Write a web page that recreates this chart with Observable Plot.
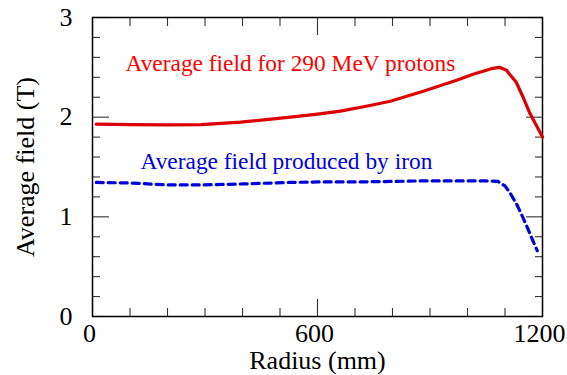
<!DOCTYPE html>
<html>
<head>
<meta charset="utf-8">
<script src="https://cdn.jsdelivr.net/npm/d3@7"></script>
<script src="https://cdn.jsdelivr.net/npm/@observablehq/plot@0.6"></script>
<style>
  html, body { margin: 0; padding: 0; background: #fff; }
</style>
</head>
<body>
<div id="chart"></div>
<script>
// Average field for 290 MeV protons (radius in mm, field in T)
const protonRadius = [10, 100, 200, 290, 395, 528, 600, 661, 730, 794, 882, 971, 1015, 1068, 1085, 1104, 1130, 1147, 1165, 1200];
const protonField  = [1.93, 1.925, 1.923, 1.925, 1.95, 2.00, 2.03, 2.06, 2.11, 2.16, 2.26, 2.37, 2.43, 2.49, 2.50, 2.47, 2.35, 2.21, 2.05, 1.80];

// Average field produced by iron
const ironRadius = [10, 100, 200, 290, 400, 528, 600, 700, 800, 870, 950, 1050, 1081, 1100, 1115, 1132, 1147, 1160, 1172, 1186];
const ironField  = [1.345, 1.34, 1.32, 1.32, 1.33, 1.345, 1.35, 1.35, 1.355, 1.36, 1.36, 1.36, 1.355, 1.31, 1.23, 1.12, 1.00, 0.89, 0.78, 0.66];

// Annotations
const annoText = ["Average field for 290 MeV protons", "Average field produced by iron"];
const annoX = [88, 128];
const annoY = [2.465, 1.477];
const annoColor = ["#ff0000", "#0000dd"];

// Ticks
const xMajor = [0, 600, 1200];
const xMinor = [100, 200, 300, 400, 500, 700, 800, 900, 1000, 1100];
const yMajor = [0, 1, 2, 3];
const yMinor = [0.2, 0.4, 0.6, 0.8, 1.2, 1.4, 1.6, 1.8, 2.2, 2.4, 2.6, 2.8];

const protons = protonRadius.map((r, i) => ({r, b: protonField[i]}));
const iron = ironRadius.map((r, i) => ({r, b: ironField[i]}));
const annos = annoText.map((t, i) => ({t, x: annoX[i], y: annoY[i], c: annoColor[i]}));

const FONT = "'Liberation Serif', 'Times New Roman', serif";
const tickStroke = "#333";
const tw = 1.1;
const fmt = d => String(d);
const chart = Plot.plot({
  width: 567,
  height: 375,
  marginLeft: 92,
  marginRight: 25,
  marginTop: 17,
  marginBottom: 59,
  style: {fontFamily: FONT, background: "#fff"},
  x: {domain: [0, 1200]},
  y: {domain: [0, 3]},
  marks: [
    // inward ticks on all four sides
    Plot.axisX(xMinor, {anchor: "bottom", tickSize: 8, dy: -8, fill: "none", stroke: tickStroke, strokeWidth: tw}),
    Plot.axisX(xMajor, {anchor: "bottom", tickSize: 17, dy: -17, fill: "none", stroke: tickStroke, strokeWidth: tw}),
    Plot.axisX(xMinor, {anchor: "top", tickSize: 8, dy: 8, fill: "none", stroke: tickStroke, strokeWidth: tw}),
    Plot.axisX(xMajor, {anchor: "top", tickSize: 17, dy: 17, fill: "none", stroke: tickStroke, strokeWidth: tw}),
    Plot.axisY(yMinor, {anchor: "left", tickSize: 8, dx: 8, fill: "none", stroke: tickStroke, strokeWidth: tw}),
    Plot.axisY(yMajor, {anchor: "left", tickSize: 17, dx: 17, fill: "none", stroke: tickStroke, strokeWidth: tw}),
    Plot.axisY(yMinor, {anchor: "right", tickSize: 8, dx: -8, fill: "none", stroke: tickStroke, strokeWidth: tw}),
    Plot.axisY(yMajor, {anchor: "right", tickSize: 17, dx: -17, fill: "none", stroke: tickStroke, strokeWidth: tw}),
    // tick labels and axis titles
    Plot.axisX(xMajor, {anchor: "bottom", tickSize: 0, tickPadding: 7, dx: -3, fontSize: 26,
      tickFormat: fmt, label: "Radius (mm)", labelAnchor: "center", labelOffset: 52, labelArrow: "none"}),
    Plot.axisY(yMajor, {anchor: "left", tickSize: 0, tickPadding: 20, fontSize: 26,
      tickFormat: fmt, label: "Average field (T)", labelAnchor: "center", labelOffset: 77, labelArrow: "none"}),
    Plot.frame({stroke: "#000", strokeWidth: 1.5}),
    Plot.line(protons, {x: "r", y: "b", stroke: "#dd0000", strokeWidth: 3.2}),
    Plot.line(iron, {x: "r", y: "b", stroke: "#0000dd", strokeWidth: 3.2, strokeDasharray: "7,5"}),
    Plot.text(annos, {x: "x", y: "y", text: "t", fill: "c", textAnchor: "start", lineAnchor: "bottom", fontSize: 23.4})
  ]
});
document.getElementById("chart").appendChild(chart);
</script>
</body>
</html>
